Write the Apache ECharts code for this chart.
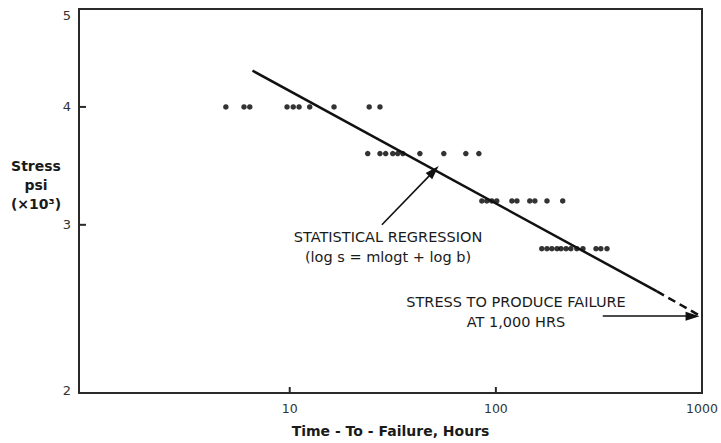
<!DOCTYPE html>
<html>
<head>
<meta charset="utf-8">
<script src="https://cdn.jsdelivr.net/npm/echarts@6/dist/echarts.min.js"></script>
<style>html,body{margin:0;padding:0;background:#fff}#c{width:721px;height:443px}</style>
</head>
<body>
<div id="c"></div>
<script>
// ---- data ----
const xTickLabels = [10, 100, 1000];
const xTickMarks = [10, 100];
const yTickLabels = [2, 3, 4, 5];
const yTickMarks = [3, 4];

const stressLevels = [4.0, 3.57, 3.18, 2.83];
const timesAt400 = [4.9, 6.0, 6.4, 9.7, 10.4, 11.1, 12.5, 16.4, 24.3, 27.4];
const timesAt357 = [23.9, 27.4, 29.2, 31.6, 33.4, 35.4, 42.8, 55.9, 71.5, 82.7];
const timesAt318 = [85.5, 90.4, 95.6, 101, 119.6, 126.5, 146, 154.6, 177, 211];
const timesAt283 = [167, 177, 187, 198, 207, 219, 231, 247, 264.5, 306, 323, 346];

const regressionSolid = [[6.6, 4.37], [605, 2.55]];
const regressionDashed = [[605, 2.55], [1000, 2.396]];

const regressionArrow = [[28, 3.0], [50, 3.42]];
const failureArrow = [[330, 2.40], [900, 2.40]];

// ---- build ----
const timeRows = [timesAt400, timesAt357, timesAt318, timesAt283];
const points = [];
timeRows.forEach((row, i) => row.forEach(t => points.push([t, stressLevels[i]])));

const FONT = 'DejaVu Sans';
const INK = '#1a1a1a';
const X_MIN = 0.95, X_MAX = 1000, Y_MIN = 1.99, Y_MAX = 5.08;

const chart = echarts.init(document.getElementById('c'), null, {renderer: 'svg'});

chart.setOption({
  animation: false,
  backgroundColor: '#fff',
  grid: {left: 79, right: 19, top: 9, bottom: 50, show: true, borderColor: '#2a2a2a', borderWidth: 2, containLabel: false},
  xAxis: {
    type: 'log', logBase: 10, min: X_MIN, max: X_MAX,
    name: 'Time - To - Failure, Hours', nameLocation: 'middle', nameGap: 31,
    nameTextStyle: {fontFamily: FONT, fontWeight: 'bold', fontSize: 14, color: INK},
    axisLine: {show: true, lineStyle: {color: '#2a2a2a', width: 2}},
    axisTick: {show: false},
    axisLabel: {show: true, customValues: xTickLabels, margin: 9, fontFamily: FONT, fontSize: 12.5, color: '#333',
                formatter: v => String(Math.round(v))},
    splitLine: {show: false}, minorTick: {show: false}
  },
  yAxis: {
    type: 'log', logBase: 10, min: Y_MIN, max: Y_MAX,
    axisLine: {show: true, lineStyle: {color: '#2a2a2a', width: 2}},
    axisTick: {show: false},
    axisLabel: {show: true, customValues: yTickLabels, margin: 8, fontFamily: FONT, fontSize: 13, color: '#333',
                formatter: v => String(Math.round(v))},
    splitLine: {show: false}, minorTick: {show: false}
  },
  series: [
    {
      type: 'scatter', data: points, symbol: 'circle', symbolSize: 5.5,
      itemStyle: {color: '#000'}, silent: true
    },
    {
      type: 'line', data: regressionSolid, symbol: 'none',
      lineStyle: {color: '#111', width: 2.5}, silent: true,
      markLine: {
        silent: true, symbol: ['none', 'triangle'], symbolSize: [9, 14],
        label: {show: false},
        lineStyle: {color: '#111', width: 1.6, type: 'solid'},
        data: [
          [{coord: regressionArrow[0]}, {coord: regressionArrow[1]}],
          [{coord: failureArrow[0]}, {coord: failureArrow[1]}]
        ]
      }
    },
    {
      type: 'line', data: regressionDashed, symbol: 'none',
      lineStyle: {color: '#111', width: 2.5, type: [8, 5]}, silent: true
    }
  ]
});

// annotation texts and inside tick marks (tick positions come from the axes' own scales)
const graphics = [
  {type: 'text', id: 'ytitle', x: 36, y: 185, z: 100,
   style: {text: 'Stress\npsi\n(×10³)', fontFamily: FONT, fontWeight: 'bold', fontSize: 14, lineHeight: 19,
           fill: INK, align: 'center', verticalAlign: 'middle'}},
  {type: 'text', id: 'regText', x: 388, y: 247, z: 100,
   style: {text: 'STATISTICAL REGRESSION\n(log s = mlogt + log b)', fontFamily: FONT, fontSize: 14.5, lineHeight: 20,
           fill: INK, align: 'center', verticalAlign: 'middle'}},
  {type: 'text', id: 'failText', x: 516, y: 312, z: 100,
   style: {text: 'STRESS TO PRODUCE FAILURE\nAT 1,000 HRS', fontFamily: FONT, fontSize: 14.5, lineHeight: 20,
           fill: INK, align: 'center', verticalAlign: 'middle'}}
];
const corner = chart.convertToPixel({gridIndex: 0}, [X_MIN, Y_MIN]);
xTickMarks.forEach((v, i) => {
  const px = chart.convertToPixel({xAxisIndex: 0}, v);
  graphics.push({type: 'line', id: 'xt' + i, z: 100,
                 shape: {x1: px, y1: corner[1], x2: px, y2: corner[1] - 6},
                 style: {stroke: '#2a2a2a', lineWidth: 2}});
});
yTickMarks.forEach((v, i) => {
  const py = chart.convertToPixel({yAxisIndex: 0}, v);
  graphics.push({type: 'line', id: 'yt' + i, z: 100,
                 shape: {x1: corner[0], y1: py, x2: corner[0] + 7, y2: py},
                 style: {stroke: '#2a2a2a', lineWidth: 2}});
});
chart.setOption({graphic: graphics});
</script>
</body>
</html>
